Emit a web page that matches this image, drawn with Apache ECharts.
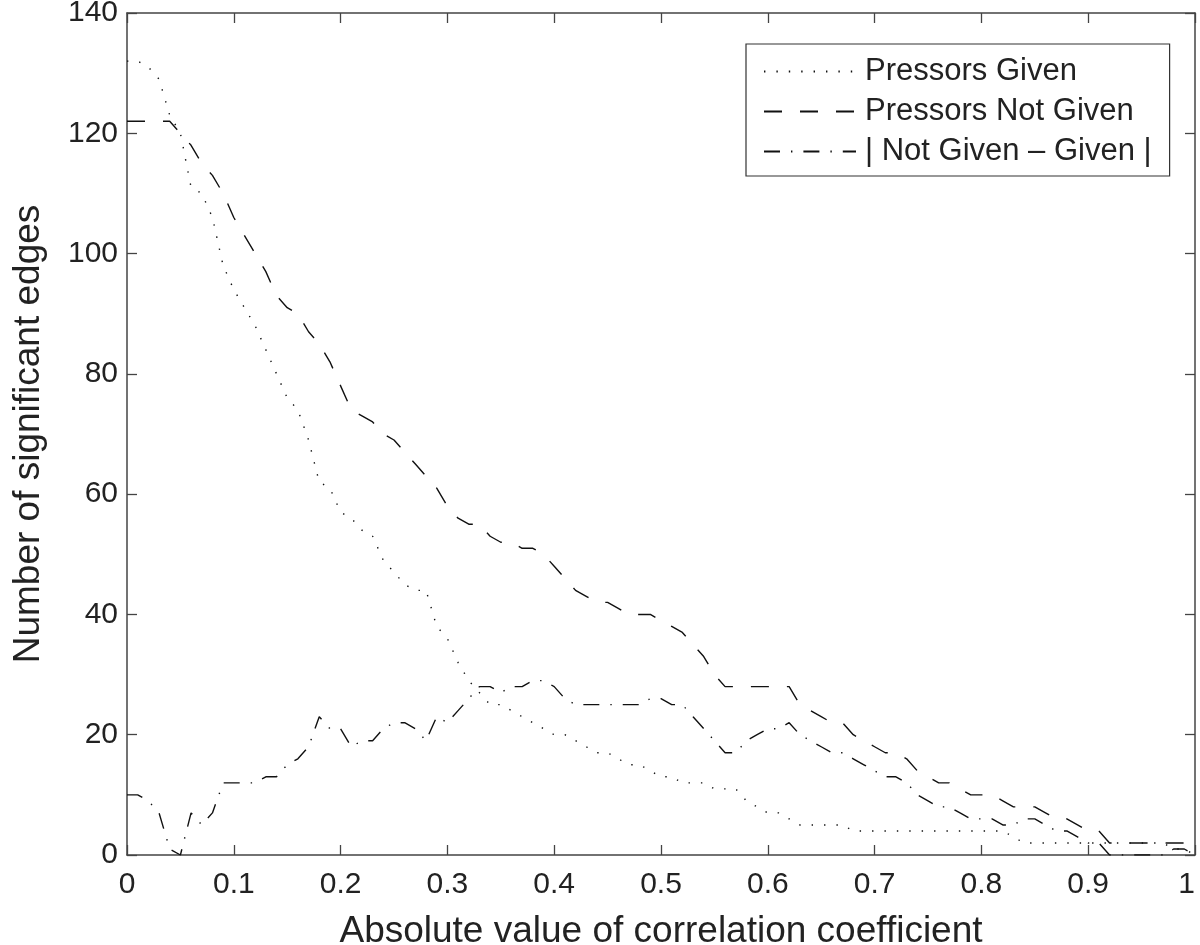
<!DOCTYPE html>
<html>
<head>
<meta charset="utf-8">
<script src="https://cdn.jsdelivr.net/npm/echarts@6/dist/echarts.min.js"></script>
<style>
html,body{margin:0;padding:0;background:#fff;}
#chart{width:1200px;height:945px;}
</style>
</head>
<body>
<div id="chart"></div>
<script>
// Absolute value of correlation coefficient (x grid)
var xs = [0,0.01,0.02,0.03,0.04,0.05,0.06,0.07,0.08,0.09,
  0.1,0.11,0.12,0.13,0.14,0.15,0.16,0.17,0.18,0.19,
  0.2,0.21,0.22,0.23,0.24,0.25,0.26,0.27,0.28,0.29,
  0.3,0.31,0.32,0.33,0.34,0.35,0.36,0.37,0.38,0.39,
  0.4,0.41,0.42,0.43,0.44,0.45,0.46,0.47,0.48,0.49,
  0.5,0.51,0.52,0.53,0.54,0.55,0.56,0.57,0.58,0.59,
  0.6,0.61,0.62,0.63,0.64,0.65,0.66,0.67,0.68,0.69,
  0.7,0.71,0.72,0.73,0.74,0.75,0.76,0.77,0.78,0.79,
  0.8,0.81,0.82,0.83,0.84,0.85,0.86,0.87,0.88,0.89,
  0.9,0.91,0.92,0.93,0.94,0.95,0.96,0.97,0.98,0.99,1];

var pressorsGiven = [132,132,131,129,123,120,111,110,106,98,
  94,91,88,84,80,76,74,69,62,61,
  57,56,54,53,49,47,45,44,44,38,
  36,32,29,27,25,25,24,23,22,21,
  20,20,19,18,17,17,16,15,15,14,
  13,13,12,12,12,11,11,11,9,8,
  7,7,6,5,5,5,5,5,4,4,
  4,4,4,4,4,4,4,4,4,4,
  4,4,4,3,2,2,2,2,2,2,
  2,2,2,2,2,2,2,2,1,1,0];

var pressorsNotGiven = [122,122,122,122,122,120,118,115,113,110,
  106,103,100,97,93,91,90,87,85,82,
  78,74,73,72,70,69,67,65,63,61,
  58,56,55,55,53,52,52,51,51,50,
  48,46,44,43,42,42,41,40,40,40,
  39,38,37,35,33,30,28,28,28,28,
  28,28,28,25,24,23,22,22,20,19,
  18,17,17,16,14,13,12,12,11,10,
  10,10,9,8,8,8,7,6,6,5,
  4,4,2,2,2,2,2,2,2,2,0];

var absDifference = [10,10,9,7,1,0,7,5,7,12,
  12,12,12,13,13,15,16,18,23,21,
  21,18,19,19,21,22,22,21,19,23,
  22,24,26,28,28,27,28,28,29,29,
  28,26,25,25,25,25,25,25,25,26,
  26,25,25,23,21,19,17,17,19,20,
  21,21,22,20,19,18,17,17,16,15,
  14,13,13,12,10,9,8,8,7,6,
  6,6,5,5,6,6,5,4,4,3,
  2,2,0,0,0,0,0,0,1,1,0];

var seriesNames = ['Pressors Given', 'Pressors Not Given', '| Not Given \u2013 Given |'];
var xTicks = ['0','0.1','0.2','0.3','0.4','0.5','0.6','0.7','0.8','0.9','1'];
var yTicks = ['0','20','40','60','80','100','120','140'];
var xTitle = 'Absolute value of correlation coefficient';
var yTitle = 'Number of significant edges';

function pairs(vals){ return xs.map(function(x,i){ return [x, vals[i]]; }); }

var FONT = '"Liberation Sans", Arial, Helvetica, sans-serif';
var AX = '#444';
var TXT = '#222';

var chart = echarts.init(document.getElementById('chart'), null, {renderer:'canvas'});
chart.setOption({
  animation: false,
  backgroundColor: '#fff',
  grid: {left:127, right:5, top:13, bottom:90, containLabel:false, outerBoundsMode:'none'},
  legend: {
    left: 746, top: 44,
    orient: 'vertical',
    align: 'left',
    backgroundColor: '#fff',
    borderColor: '#333', borderWidth: 1.2,
    padding: [12, 18, 9, 17],
    itemWidth: 92, itemHeight: 14, itemGap: 9,
    itemStyle: {color: 'rgba(0,0,0,0)', borderWidth: 0, opacity: 0},
    textStyle: {fontFamily: FONT, fontSize: 31, color: TXT, lineHeight: 28, padding:[0,0,0,4]},
    data: seriesNames
  },
  xAxis: [{
    type: 'value', min: 0, max: 1, interval: 0.1, position: 'bottom',
    name: xTitle, nameLocation: 'middle', nameGap: 58,
    nameTextStyle: {fontFamily: FONT, fontSize: 37, color: TXT},
    axisLine: {show: true, onZero: false, lineStyle: {color: AX, width: 1.5}},
    axisTick: {show: true, inside: true, length: 10, lineStyle: {color: AX, width: 1.3}},
    axisLabel: {fontFamily: FONT, fontSize: 30, color: TXT, margin: 15, alignMaxLabel: 'right',
      formatter: function(v){ var i = Math.round(v*10); return xTicks[i]; }},
    splitLine: {show: false}
  },{
    type: 'value', min: 0, max: 1, interval: 0.1, position: 'top',
    axisLine: {show: true, onZero: false, lineStyle: {color: AX, width: 1.5}},
    axisTick: {show: true, inside: true, length: 10, lineStyle: {color: AX, width: 1.3}},
    axisLabel: {show: false}, splitLine: {show: false}
  }],
  yAxis: [{
    type: 'value', min: 0, max: 140, interval: 20, position: 'left',
    name: yTitle, nameLocation: 'middle', nameGap: 80,
    nameTextStyle: {fontFamily: FONT, fontSize: 37, color: TXT},
    axisLine: {show: true, onZero: false, lineStyle: {color: AX, width: 1.5}},
    axisTick: {show: true, inside: true, length: 10, lineStyle: {color: AX, width: 1.3}},
    axisLabel: {fontFamily: FONT, fontSize: 30, color: TXT, margin: 9,
      formatter: function(v){ return yTicks[Math.round(v/20)]; }},
    splitLine: {show: false}
  },{
    type: 'value', min: 0, max: 140, interval: 20, position: 'right',
    axisLine: {show: true, onZero: false, lineStyle: {color: AX, width: 1.5}},
    axisTick: {show: true, inside: true, length: 10, lineStyle: {color: AX, width: 1.3}},
    axisLabel: {show: false}, splitLine: {show: false}
  }],
  series: [{
    name: seriesNames[0], type: 'line', data: pairs(pressorsGiven),
    symbol: 'none', showSymbol: false, color: '#111',
    lineStyle: {color: '#111', width: 1.4, type: [1.4, 11]}
  },{
    name: seriesNames[1], type: 'line', data: pairs(pressorsNotGiven),
    symbol: 'none', showSymbol: false, color: '#111',
    lineStyle: {color: '#111', width: 1.4, type: [18, 18]}
  },{
    name: seriesNames[2], type: 'line', data: pairs(absDifference),
    symbol: 'none', showSymbol: false, color: '#111',
    lineStyle: {color: '#111', width: 1.4, type: [16, 11, 1.4, 11]}
  }]
});
</script>
</body>
</html>
